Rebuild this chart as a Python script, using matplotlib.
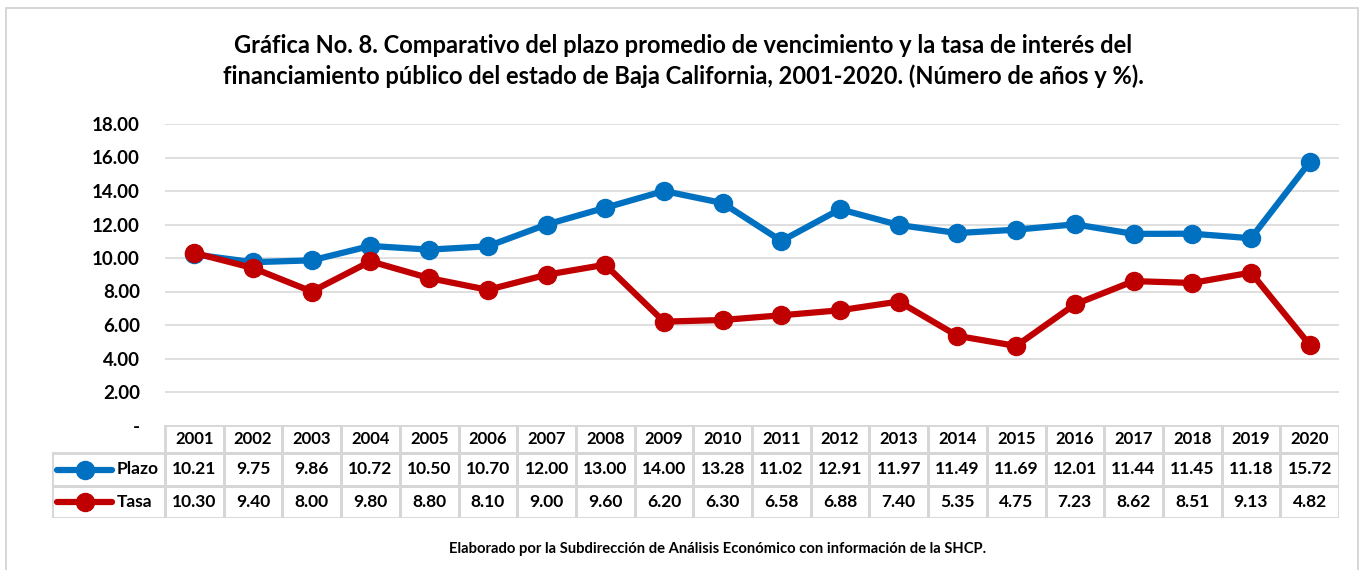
import matplotlib
matplotlib.use("Agg")
import matplotlib.pyplot as plt
from matplotlib.patches import Rectangle
from matplotlib.lines import Line2D

plt.rcParams['font.family'] = ['Lato', 'DejaVu Sans']
plt.rcParams['font.weight'] = 'bold'

# data
years = ['2001', '2002', '2003', '2004', '2005', '2006', '2007', '2008', '2009', '2010',
         '2011', '2012', '2013', '2014', '2015', '2016', '2017', '2018', '2019', '2020']
plazo = [10.21, 9.75, 9.86, 10.72, 10.50, 10.70, 12.00, 13.00, 14.00, 13.28,
         11.02, 12.91, 11.97, 11.49, 11.69, 12.01, 11.44, 11.45, 11.18, 15.72]
tasa = [10.30, 9.40, 8.00, 9.80, 8.80, 8.10, 9.00, 9.60, 6.20, 6.30,
        6.58, 6.88, 7.40, 5.35, 4.75, 7.23, 8.62, 8.51, 9.13, 4.82]
series_names = ['Plazo', 'Tasa']
yticks = [0, 2, 4, 6, 8, 10, 12, 14, 16, 18]

title = ("Gráfica No. 8. Comparativo del plazo promedio de vencimiento y la tasa de interés del\n"
         "financiamiento público del estado de Baja California, 2001-2020. (Número de años y %).")
footer = "Elaborado por la Subdirección de Análisis Económico con información de la SHCP."

BLUE = '#0070C0'
RED = '#C00000'
GRID = '#D9D9D9'

W, H = 1367, 570
fig = plt.figure(figsize=(W / 100, H / 100), dpi=100)


def px_axes(x0, y0, x1, y1):
    # pixel box (top-left origin) -> figure axes
    return fig.add_axes([x0 / W, 1 - y1 / H, (x1 - x0) / W, (y1 - y0) / H])


# outer chart border
fig.patches.append(Rectangle((6 / W, -0.05), 1352 / W, 1 - 8 / H + 0.05,
                             transform=fig.transFigure, fill=False,
                             edgecolor='#D0D0D0', lw=1.2))

# main plot area
ax = px_axes(165, 124, 1339, 425.5)
x = list(range(len(years)))
ax.plot(x, plazo, color=BLUE, lw=4.5, marker='o', ms=13, zorder=3)
ax.plot(x, tasa, color=RED, lw=4.5, marker='o', ms=13, zorder=3)
ax.set_xlim(-0.5, len(years) - 0.5)
ax.set_ylim(0, 18)
ax.set_yticks(yticks)
ax.set_yticklabels(['-' if v == 0 else f'{v:.2f}' for v in yticks],
                   fontsize=13.5, fontweight='bold')
ax.tick_params(axis='y', length=0, pad=18)
ax.set_xticks([])
ax.grid(axis='y', color=GRID, lw=1.2)
ax.set_axisbelow(True)
for s in ax.spines.values():
    s.set_visible(False)
ax.patch.set_alpha(0)

# data table
label_w = (165 - 52) / 58.7
tax = px_axes(52, 425, 1339, 518)
tax.set_xlim(-0.5 - label_w, len(years) - 0.5)
row_edges = [0, 28, 61, 93]
tax.set_ylim(row_edges[-1], 0)
tax.axis('off')

bcol = '#D6D6D6'
blw = 2.0
# header row cells
for i, yr in enumerate(years):
    tax.add_patch(Rectangle((i - 0.5, row_edges[0]), 1, row_edges[1] - row_edges[0],
                            fill=False, edgecolor=bcol, lw=blw))
    tax.text(i, (row_edges[0] + row_edges[1]) / 2, yr, ha='center', va='center',
             fontsize=12, fontweight='bold')

rows = [plazo, tasa]
colors = [BLUE, RED]
for r, (vals, name, c) in enumerate(zip(rows, series_names, colors)):
    y0, y1 = row_edges[r + 1], row_edges[r + 2]
    yc = (y0 + y1) / 2
    tax.add_patch(Rectangle((-0.5 - label_w, y0), label_w, y1 - y0,
                            fill=False, edgecolor=bcol, lw=blw))
    for i, v in enumerate(vals):
        tax.add_patch(Rectangle((i - 0.5, y0), 1, y1 - y0,
                                fill=False, edgecolor=bcol, lw=blw))
        tax.text(i, yc, f'{v:.2f}', ha='center', va='center',
                 fontsize=12.5, fontweight='bold')
    # legend key
    x_start = -0.5 - label_w + 0.08
    tax.add_line(Line2D([x_start, x_start + 0.95], [yc, yc], color=c, lw=4.5,
                        solid_capstyle='round'))
    tax.plot([x_start + 0.475], [yc], marker='o', ms=13, color=c)
    tax.text(x_start + 1.02, yc, name, ha='left', va='center',
             fontsize=12.5, fontweight='bold')

fig.text(683 / W, 1 - 61 / H, title, ha='center', va='center', fontsize=17,
         fontweight='bold', linespacing=1.35)
fig.text(718 / W, 1 - 549 / H, footer, ha='center', va='center', fontsize=10.6,
         fontweight='bold')

fig.savefig('out.png', dpi=100, facecolor='white')
